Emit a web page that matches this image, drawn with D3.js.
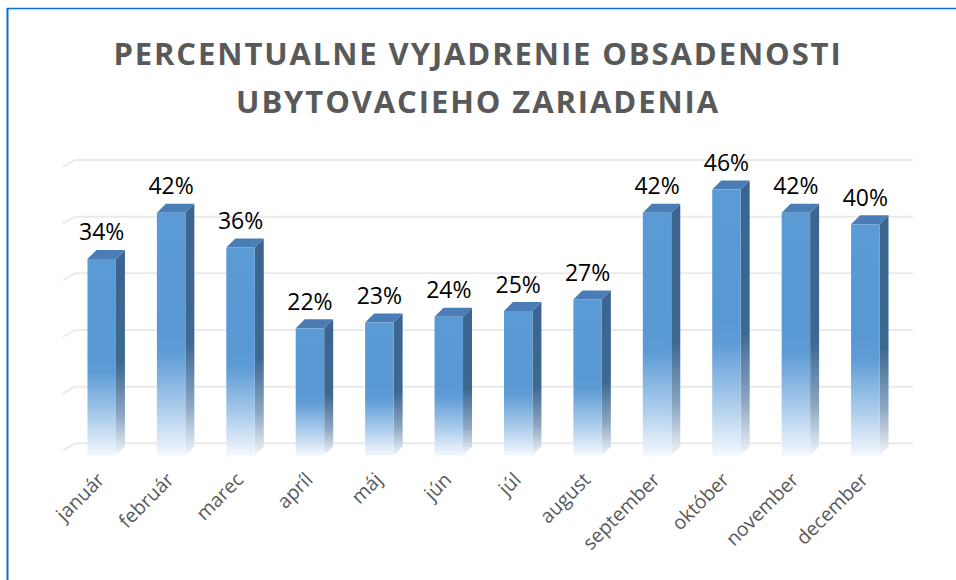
<!DOCTYPE html>
<html>
<head>
<meta charset="utf-8">
<script src="https://cdn.jsdelivr.net/npm/d3@7"></script>
<style>
  body { margin: 0; background: #fff; }
  svg { display: block; font-family: "Open Sans", sans-serif; }
</style>
</head>
<body>
<svg width="956" height="580"></svg>
<script>
// data
var months = ["január", "február", "marec", "apríl", "máj", "jún", "júl", "august", "september", "október", "november", "december"];
var values = [34, 42, 36, 22, 23, 24, 25, 27, 42, 46, 42, 40];
var gridTicks = [0, 10, 20, 30, 40, 50];
var titleLines = ["PERCENTUALNE VYJADRENIE OBSADENOSTI", "UBYTOVACIEHO ZARIADENIA"];

var svg = d3.select("svg"),
  width = +svg.attr("width"),
  height = +svg.attr("height");

// 3d depth of the bars
var dx = 9, dy = 9;

var x = d3.scaleBand()
  .domain(months)
  .range([67, 900])
  .padding(0);

// front plane (bars) and back wall (gridlines)
var yFront = d3.scaleLinear().domain([0, 50]).range([455.5, 166.5]);
var yBack = d3.scaleLinear().domain([0, 50]).range([443.3, 160]);

var barW = x.bandwidth() * 0.41;

// gradients
var defs = svg.append("defs");
var gFront = defs.append("linearGradient").attr("id", "gFront")
  .attr("x1", 0).attr("y1", 0).attr("x2", 0).attr("y2", 1);
gFront.append("stop").attr("offset", "0%").attr("stop-color", "#5B9BD5");
gFront.append("stop").attr("offset", "48%").attr("stop-color", "#5898D3");
gFront.append("stop").attr("offset", "58%").attr("stop-color", "#5F9CD6");
gFront.append("stop").attr("offset", "80%").attr("stop-color", "#A9CBEB");
gFront.append("stop").attr("offset", "100%").attr("stop-color", "#F4F8FD");

var gSide = defs.append("linearGradient").attr("id", "gSide")
  .attr("x1", 0).attr("y1", 0).attr("x2", 0).attr("y2", 1);
gSide.append("stop").attr("offset", "0%").attr("stop-color", "#3B6590");
gSide.append("stop").attr("offset", "55%").attr("stop-color", "#3D6892");
gSide.append("stop").attr("offset", "80%").attr("stop-color", "#8BA6C2");
gSide.append("stop").attr("offset", "100%").attr("stop-color", "#F2F5F9");

// border (left and top only)
svg.append("line")
  .attr("x1", 7).attr("y1", 8.5).attr("x2", width).attr("y2", 8.5)
  .attr("stroke", "#0F6FC6").attr("stroke-width", 1.5);
svg.append("line")
  .attr("x1", 7).attr("y1", 9.8).attr("x2", width).attr("y2", 9.8)
  .attr("stroke", "#BBD6F0").attr("stroke-width", 1);
svg.append("line")
  .attr("x1", 7.5).attr("y1", 8).attr("x2", 7.5).attr("y2", height)
  .attr("stroke", "#0F6FC6").attr("stroke-width", 2);

// title
svg.append("g").selectAll("text")
  .data(titleLines)
  .enter().append("text")
  .attr("x", 478)
  .attr("y", function (d, i) { return 65 + i * 48; })
  .attr("text-anchor", "middle")
  .attr("font-size", 31)
  .attr("font-weight", "bold")
  .attr("letter-spacing", 1.9)
  .attr("fill", "#595959")
  .text(function (d) { return d; });

// gridlines on the back wall with the side-wall slant
var wallL = 75, wallR = 913;
var grid = svg.append("g");
grid.selectAll("path")
  .data(gridTicks)
  .enter().append("path")
  .attr("d", function (d) {
    var yb = yBack(d);
    return "M" + (wallL - 12) + "," + (yb + 7) + "L" + wallL + "," + yb + "L" + wallR + "," + yb;
  })
  .attr("fill", "none")
  .attr("stroke", "#EAEAEA")
  .attr("stroke-width", 2);

// bars
var bars = svg.append("g").selectAll("g")
  .data(values)
  .enter().append("g");

function bx(d, i) { return x(months[i]) + x.bandwidth() / 2 - barW / 2; }

bars.append("path")
  .attr("d", function (d, i) {
    var x0 = bx(d, i) + barW, yt = yFront(d), yb = yFront(0);
    return "M" + x0 + "," + yt + "L" + (x0 + dx) + "," + (yt - dy) +
      "L" + (x0 + dx) + "," + (yb - dy) + "L" + x0 + "," + yb + "Z";
  })
  .attr("fill", "url(#gSide)");

bars.append("path")
  .attr("d", function (d, i) {
    var x0 = bx(d, i), yt = yFront(d);
    return "M" + x0 + "," + yt + "L" + (x0 + dx) + "," + (yt - dy) +
      "L" + (x0 + barW + dx) + "," + (yt - dy) + "L" + (x0 + barW) + "," + yt + "Z";
  })
  .attr("fill", "#4A7DB5");

bars.append("rect")
  .attr("x", bx)
  .attr("y", function (d) { return yFront(d); })
  .attr("width", barW)
  .attr("height", function (d) { return yFront(0) - yFront(d); })
  .attr("fill", "url(#gFront)");

// data labels
bars.append("text")
  .attr("x", function (d, i) { return x(months[i]) + x.bandwidth() / 2; })
  .attr("y", function (d) { return yFront(d) - 18.5; })
  .attr("text-anchor", "middle")
  .attr("font-size", 23)
  .attr("fill", "#000")
  .text(function (d) { return d + "%"; });

// category labels
svg.append("g").selectAll("text")
  .data(months)
  .enter().append("text")
  .attr("transform", function (d) {
    return "translate(" + (x(d) + x.bandwidth() / 2 + 4) + ",481) rotate(-45)";
  })
  .attr("text-anchor", "end")
  .attr("font-size", 19.5)
  .attr("fill", "#595959")
  .text(function (d) { return d; });
</script>
</body>
</html>
